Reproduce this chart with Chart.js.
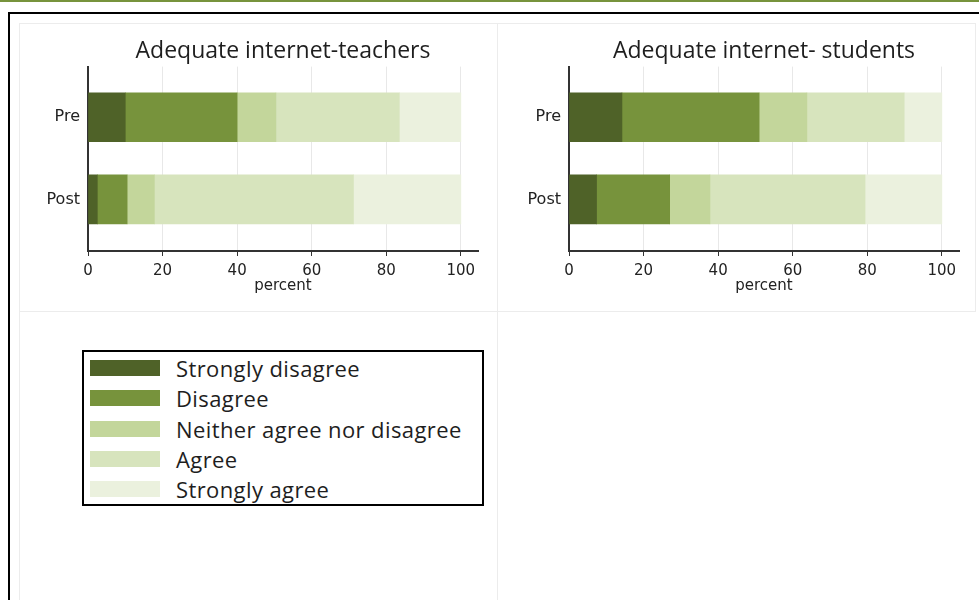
<!DOCTYPE html>
<html>
<head>
<meta charset="utf-8">
<script src="https://cdn.jsdelivr.net/npm/chart.js@4/dist/chart.umd.min.js"></script>
<style>
    body { margin: 0; background: #fff; width: 979px; height: 600px; position: relative; overflow: hidden; }
    .topline { position: absolute; left: 0; top: 0; width: 979px; height: 2px; background: #77933c; }
    .frame { position: absolute; left: 8px; top: 12px; width: 980px; height: 600px; border-top: 2px solid #000; border-left: 2px solid #000; }
    .panel { position: absolute; border: 1px solid #ececec; box-sizing: border-box; }
    .panel canvas { position: absolute; left: 0; top: 0; }
    #legend { position: absolute; left: 82px; top: 350px; width: 402px; height: 156px; box-sizing: border-box;
              border: 2px solid #000; padding-top: 8px; font-family: "Open Sans", sans-serif; font-size: 22px;
              letter-spacing: 0.4px; color: #1e1e1e; }
    #legend .item { height: 30.3px; position: relative; }
    #legend .sw { position: absolute; left: 6px; top: 0; width: 70px; height: 16px; }
    #legend .lb { position: absolute; left: 92px; top: -6px; line-height: 28px; white-space: nowrap; }
</style>
</head>
<body>
<div class="topline"></div>
<div class="frame"></div>
<div class="panel" style="left:19px; top:23px; width:479px; height:289px;">
    <canvas id="chartTeachers" width="476" height="286"></canvas>
</div>
<div class="panel" style="left:497px; top:23px; width:479px; height:289px;">
    <canvas id="chartStudents" width="477" height="286"></canvas>
</div>
<div class="panel" style="left:19px; top:311px; width:479px; height:290px;"></div>
<div id="legend"></div>

<script>
'use strict'

// rows (top to bottom)
var categories = ['Pre', 'Post'];

// response levels and their colours
var levels = ['Strongly disagree', 'Disagree', 'Neither agree nor disagree', 'Agree', 'Strongly agree'];
var levelColors = ['#4f6228', '#77933c', '#c3d69b', '#d7e4bd', '#ebf1de'];

// teachers, percent (Pre, Post)
var teachersStronglyDisagree = [10, 2.5];
var teachersDisagree = [30, 8];
var teachersNeither = [10.4, 7.3];
var teachersAgree = [33.1, 53.4];
var teachersStronglyAgree = [16.5, 28.8];

// students, percent (Pre, Post)
var studentsStronglyDisagree = [14.2, 7.4];
var studentsDisagree = [36.8, 19.6];
var studentsNeither = [12.8, 10.8];
var studentsAgree = [26.1, 41.6];
var studentsStronglyAgree = [10.1, 20.6];

var xTicks = [0, 20, 40, 60, 80, 100];

function makeDatasets(series) {
    return series.map(function(values, k) {
        return {
            label: levels[k],
            data: values.map(function(v, i) { return { x: v, y: i }; }),
            backgroundColor: levelColors[k],
            borderWidth: 0,
            barThickness: 49
        };
    });
}

function makeChart(id, title, series, pad) {
    var ctx = document.getElementById(id);
    return new Chart(ctx, {
        type: 'bar',
        data: { datasets: makeDatasets(series) },
        options: {
            indexAxis: 'y',
            responsive: false,
            animation: false,
            layout: { padding: pad },
            plugins: {
                legend: { display: false },
                tooltip: { enabled: false },
                title: {
                    display: true,
                    fullSize: false,   // centre over the plot, not the canvas
                    text: title,
                    color: '#1e1e1e',
                    font: { family: 'Open Sans', size: 23, weight: 'normal', lineHeight: 1.2 },
                    padding: { top: 14, bottom: 1 }
                }
            },
            scales: {
                x: {
                    type: 'linear',
                    stacked: true,
                    min: 0,
                    max: 104.6,
                    afterBuildTicks: function(axis) {
                        axis.ticks = xTicks.map(function(v) { return { value: v }; });
                    },
                    grid: { color: '#e8e8e8', tickColor: '#333', tickLength: 5 },
                    border: { color: '#333', width: 2 },
                    ticks: { color: '#222', padding: 8, font: { family: 'DejaVu Sans', size: 15, lineHeight: 1 } },
                    title: {
                        display: true,
                        text: 'percent',
                        color: '#222',
                        padding: { top: -8, bottom: 0 },
                        font: { family: 'DejaVu Sans', size: 15, lineHeight: 1 }
                    }
                },
                y: {
                    type: 'linear',
                    stacked: true,
                    reverse: true,
                    offset: false,
                    min: -0.616,
                    max: 1.628,
                    afterFit: function(axis) { axis.width = 50; },
                    grid: { display: false, offset: false, drawTicks: false, tickLength: 0 },
                    border: { color: '#333', width: 2 },
                    ticks: {
                        stepSize: 1,
                        includeBounds: false,
                        padding: 8,
                        color: '#222',
                        font: { family: 'DejaVu Sans', size: 16 },
                        callback: function(v) { return categories[v]; }
                    }
                }
            }
        }
    });
}

makeChart('chartTeachers', 'Adequate internet-teachers',
    [teachersStronglyDisagree, teachersDisagree, teachersNeither, teachersAgree, teachersStronglyAgree],
    { left: 18, right: 18, top: 0, bottom: 16 });

makeChart('chartStudents', 'Adequate internet- students',
    [studentsStronglyDisagree, studentsDisagree, studentsNeither, studentsAgree, studentsStronglyAgree],
    { left: 21, right: 16, top: 0, bottom: 16 });

// shared legend in the lower panel
var legend = document.getElementById('legend');
levels.forEach(function(name, k) {
    var item = document.createElement('div');
    item.className = 'item';
    item.innerHTML = '<span class="sw" style="background:' + levelColors[k] + '"></span><span class="lb">' + name + '</span>';
    legend.appendChild(item);
});
</script>
</body>
</html>
